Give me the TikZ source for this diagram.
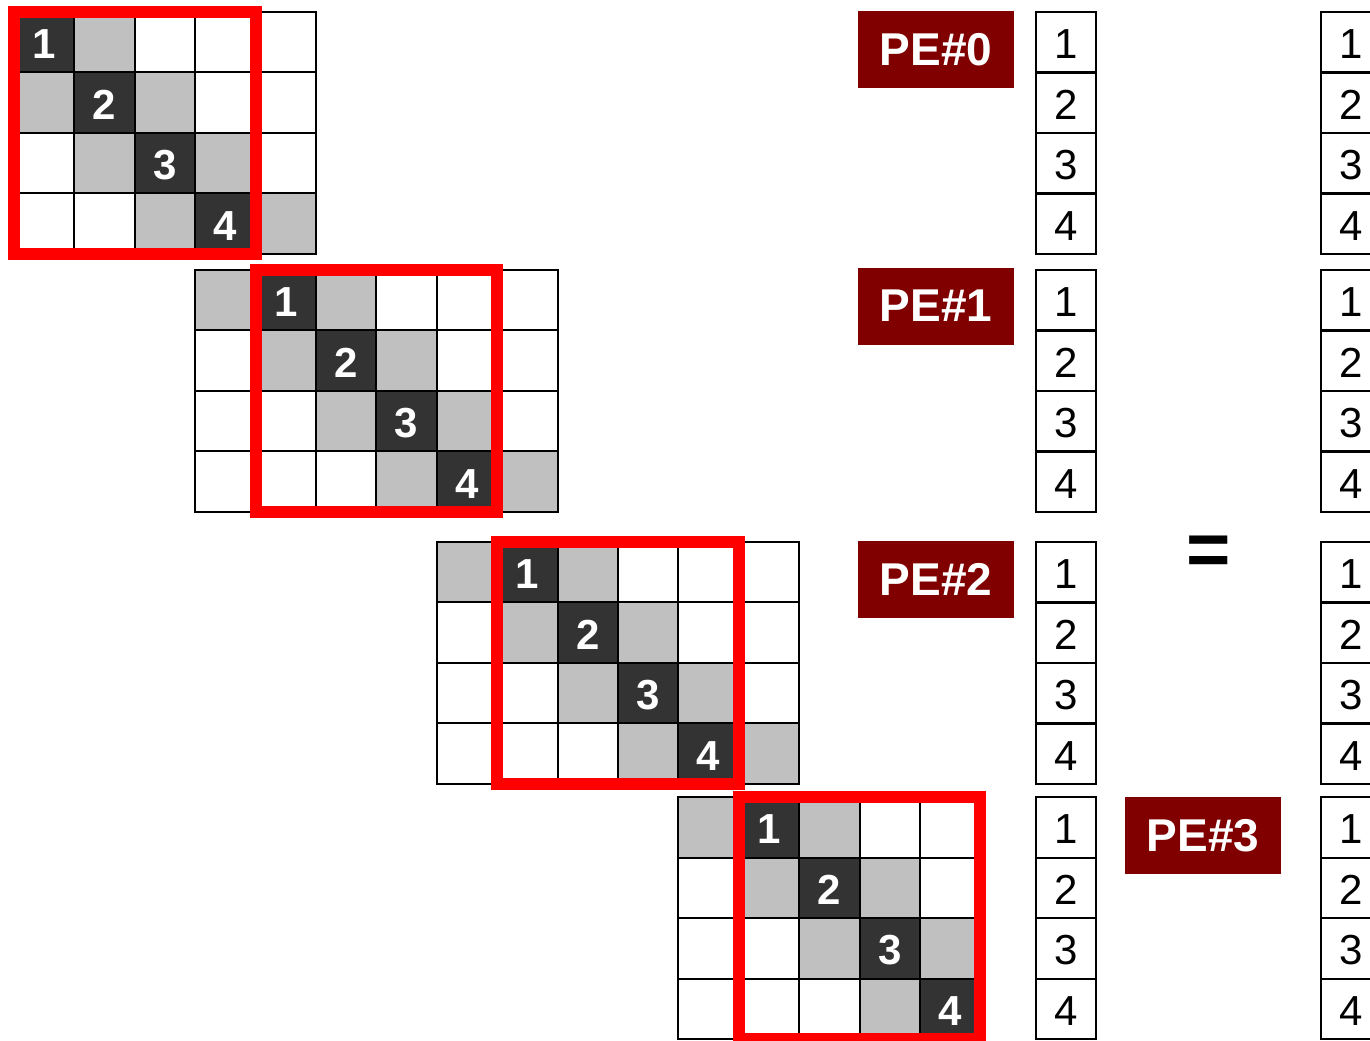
\documentclass[tikz,border=0pt]{standalone}
\usepackage{fontspec}
\setmainfont{Liberation Sans}
\usepackage{xcolor}
\usetikzlibrary{positioning}
\definecolor{peRed}{HTML}{800000}
\definecolor{cellGray}{HTML}{C0C0C0}
\definecolor{cellDark}{HTML}{333333}

\begin{document}
\begin{tikzpicture}[x=0.75pt,y=-0.75pt,
   cell/.style={draw,line width=1.5pt,minimum width=45.3pt,minimum height=45.4pt,inner sep=0pt,
     text height=24.7pt,text depth=0pt,font=\fontsize{31.5}{32}\selectfont},
   dk/.style={cell,fill=cellDark,text=white,font=\fontsize{31.5}{32}\selectfont\bfseries},
   lt/.style={cell,fill=cellGray},
   wt/.style={cell,fill=white},
   vec/.style={cell,minimum width=45pt},
   pelab/.style={fill=peRed,text=white,minimum width=117pt,minimum height=57.75pt,inner sep=0pt,
     font=\fontsize{34.5}{35}\selectfont\bfseries},
   band/.style={draw=red,line width=9pt}]
  \useasboundingbox (0,0) rectangle (1370,1040);
  \clip (0,0) rectangle (1370,1040);
  % banded matrix, one block of rows per PE
  \foreach \k/\yt in {0/12,1/270,2/542,3/797}{
    \pgfmathtruncatemacro\cfirst{max(0,4*\k-1)}
    \pgfmathtruncatemacro\clast{min(15,4*\k+4)}
    \foreach \r in {0,...,3}{
      \pgfmathtruncatemacro\gi{4*\k+\r}
      \pgfmathtruncatemacro\num{\r+1}
      \foreach \c in {\cfirst,...,\clast}{
        \pgfmathtruncatemacro\dd{abs(\c-\gi)}
        \ifnum\dd=0
          \node[dk] (m\k-\r-\c) at ({14+60.4*(\c+0.5)},{\yt+60.5*(\r+0.5)}) {\num};
        \else\ifnum\dd=1
          \node[lt] (m\k-\r-\c) at ({14+60.4*(\c+0.5)},{\yt+60.5*(\r+0.5)}) {};
        \else
          \node[wt] (m\k-\r-\c) at ({14+60.4*(\c+0.5)},{\yt+60.5*(\r+0.5)}) {};
        \fi\fi
      }
      % x and b vectors
      \node[vec] (x\k-\r) at (1066,{\yt+60.5*(\r+0.5)}) {\num};
      \node[vec] (b\k-\r) at (1351,{\yt+60.5*(\r+0.5)}) {\num};
    }
    \draw[band] ({14+60.4*4*\k},\yt) rectangle ++(241.6,242);
  }
  \node[pelab] (pe0) at (936,49.5) {PE\#0};
  \node[pelab] (pe1) at (936,306) {PE\#1};
  \node[pelab] (pe2) at (936,579) {PE\#2};
  \node[pelab] (pe3) at (1203,835.5) {PE\#3};
  \node[font=\fontsize{57}{57}\selectfont\bfseries] (eq) at (1209,556) {=};
\end{tikzpicture}
\end{document}
